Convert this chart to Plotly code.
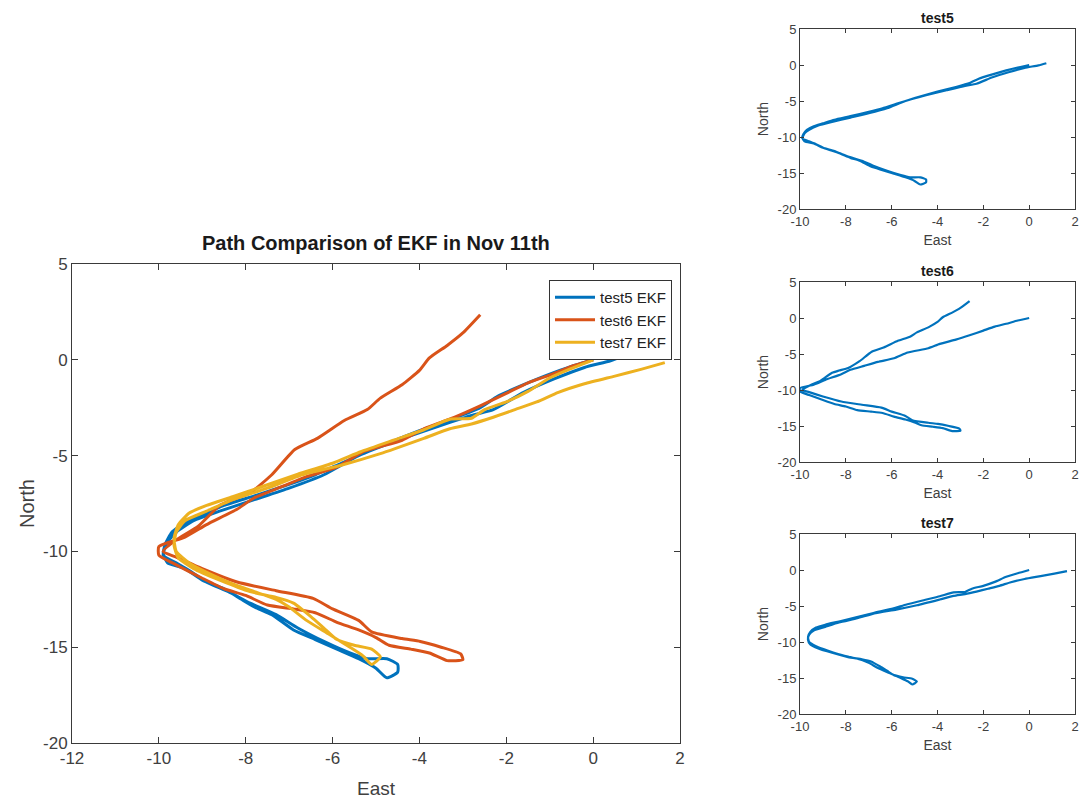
import plotly.graph_objects as go

# ---------------- data ----------------
test5_east = [0, -0.5, -1.0, -1.6, -2.2, -2.6, -3.2, -4.0, -5.0, -5.8, -6.4, -7.0, -7.8, -8.5, -9.0, -9.4,
              -9.7, -9.85, -9.9, -9.8, -9.4, -9.0, -8.5, -8.1, -7.8, -7.4, -6.9, -6.4, -5.9, -5.4, -5.0,
              -4.75, -4.5, -4.5, -4.75, -5.2, -5.6, -6.2, -6.8, -7.3, -7.9, -8.4, -8.9, -9.3, -9.6, -9.9,
              -9.8, -9.6, -9.2, -8.6, -7.8, -7.0, -6.2, -5.4, -4.5, -3.6, -2.8, -2.3, -1.6, -0.9, -0.2,
              0.4, 0.75]
test5_north = [0, -0.35, -0.75, -1.3, -1.9, -2.5, -3.05, -3.7, -4.6, -5.4, -6.0, -6.5, -7.1, -7.6, -8.1, -8.5,
               -9.0, -9.6, -10.1, -10.6, -10.9, -11.5, -11.95, -12.5, -12.9, -13.3, -14.1, -14.6, -15.1, -15.6, -16.1,
               -16.6, -16.3, -15.9, -15.6, -15.6, -15.3, -14.7, -14.0, -13.3, -12.7, -12.1, -11.6, -11.0, -10.6, -10.2,
               -9.5, -9.0, -8.4, -7.9, -7.3, -6.7, -6.0, -5.0, -4.2, -3.5, -2.9, -2.6, -1.7, -1.0, -0.4,
               -0.05, 0.25]

test6_east = [0, -0.5, -1.0, -1.5, -2.0, -2.6, -3.2, -3.9, -4.4, -5.3, -5.9, -6.6, -7.2, -7.8, -8.2, -8.9,
              -9.4, -10.0, -10.0, -9.6, -9.0, -8.5, -8.0, -7.5, -6.9, -6.4, -5.9, -5.4, -5.0, -4.7, -4.2,
              -3.77, -3.36, -3.0, -3.05, -3.5, -3.98, -4.4, -5.1, -5.4, -6.0, -6.45, -7.3, -8.2, -9.0, -9.6,
              -9.9, -9.6, -9.1, -8.6, -8.3, -7.9, -7.4, -6.87, -6.35, -5.73, -5.2, -4.9, -4.4, -4.0, -3.77,
              -3.36, -3.0, -2.6]
test6_north = [0, -0.35, -0.8, -1.2, -1.75, -2.4, -3.0, -3.6, -4.2, -4.8, -5.6, -6.1, -6.65, -7.2, -7.8, -8.6,
               -9.25, -9.75, -10.2, -10.7, -11.4, -11.95, -12.3, -12.8, -13.0, -13.2, -13.7, -14.1, -14.5, -14.9, -15.1,
               -15.3, -15.7, -15.65, -15.35, -15.0, -14.7, -14.55, -14.2, -13.6, -13.0, -12.45, -12.05, -11.6, -10.9, -10.3,
               -10.0, -9.4, -8.7, -7.6, -7.3, -6.95, -6.0, -4.68, -4.1, -3.17, -2.6, -2.0, -1.3, -0.55, 0.1,
               0.75, 1.4, 2.35]

test7_east = [0, -0.5, -1.0, -1.5, -2.0, -2.5, -2.8, -3.3, -3.9, -4.6, -5.35, -6.0, -6.8, -7.6, -8.3, -8.9,
              -9.3, -9.55, -9.65, -9.6, -9.3, -8.8, -8.3, -7.8, -7.3, -7.0, -6.6, -6.1, -5.6, -5.3, -5.1,
              -4.9, -5.1, -5.5, -5.9, -6.2, -6.5, -6.9, -7.3, -7.9, -8.6, -9.2, -9.55, -9.65, -9.6, -9.4,
              -8.9, -8.3, -7.5, -6.7, -5.8, -4.9, -3.9, -3.3, -2.8, -2.3, -1.8, -1.3, -0.8, -0.2, 0.5,
              1.1, 1.65]
test7_north = [0, -0.45, -0.95, -1.65, -2.2, -2.6, -3.05, -3.1, -3.65, -4.2, -4.8, -5.4, -5.97, -6.6, -7.15, -7.6,
               -8.0, -8.6, -9.3, -10.0, -10.6, -11.2, -11.7, -12.1, -12.5, -12.9, -13.6, -14.3, -15.0, -15.45, -15.9,
               -15.5, -15.1, -14.9, -14.6, -14.0, -13.4, -12.7, -12.4, -12.1, -11.5, -10.9, -10.35, -9.7, -9.0, -8.4,
               -7.9, -7.3, -6.7, -6.0, -5.5, -4.9, -4.1, -3.6, -3.35, -3.0, -2.6, -2.2, -1.7, -1.25, -0.85,
               -0.5, -0.15]

series_names = ["test5 EKF", "test6 EKF", "test7 EKF"]
sub_titles = ["test5", "test6", "test7"]
main_title = "Path Comparison of EKF in Nov 11th"
x_ticks_main = [-12, -10, -8, -6, -4, -2, 0, 2]
x_ticks_sub = [-10, -8, -6, -4, -2, 0, 2]
y_ticks = [5, 0, -5, -10, -15, -20]

# ---------------- styling ----------------
W, H = 1081, 799
colors = ["#0072BD", "#D95319", "#EDB120"]
FONT = "Liberation Sans, Arial, sans-serif"
AX = "#3a3a3a"
TXT = "#404040"

def px_x(p):
    return p / W

def px_y(p):
    return 1 - p / H

def labels(vals):
    return [str(v) for v in vals]   # plain hyphen minus, as in the reference

fig = go.Figure()

data = [(test5_east, test5_north), (test6_east, test6_north), (test7_east, test7_north)]

for (ex, ny), name, c in zip(data, series_names, colors):
    fig.add_trace(go.Scatter(x=ex, y=ny, mode="lines", name=name,
                             line=dict(color=c, width=3, shape="spline", smoothing=0.5),
                             xaxis="x", yaxis="y"))

for i, (ex, ny) in enumerate(data):
    fig.add_trace(go.Scatter(x=ex, y=ny, mode="lines", showlegend=False,
                             line=dict(color=colors[0], width=2.2, shape="spline", smoothing=0.5),
                             xaxis="x%d" % (i + 2), yaxis="y%d" % (i + 2)))

def axis_common(size, ticklen):
    return dict(showgrid=False, zeroline=False, showline=True, linecolor=AX, linewidth=1,
                mirror="ticks", ticks="inside", ticklen=ticklen, tickcolor=AX,
                tickfont=dict(family=FONT, size=size, color=TXT), automargin=False,
                fixedrange=True, tickmode="array")

layout = dict(
    width=W, height=H, margin=dict(l=0, r=0, t=0, b=0),
    paper_bgcolor="white", plot_bgcolor="white",
    showlegend=True,
    legend=dict(x=px_x(672), y=px_y(280), xanchor="right", yanchor="top",
                bordercolor="#333", borderwidth=1, bgcolor="white",
                font=dict(family=FONT, size=15, color="#222"),
                tracegroupgap=0, itemwidth=40),
)

layout["xaxis"] = dict(axis_common(17, 6), domain=[px_x(72), px_x(680)], range=[-12, 2],
                       tickvals=x_ticks_main, ticktext=labels(x_ticks_main), anchor="y",
                       title=dict(text="East", font=dict(family=FONT, size=19, color=TXT), standoff=14))
layout["yaxis"] = dict(axis_common(17, 6), domain=[px_y(743), px_y(264)], range=[-20, 5],
                       tickvals=y_ticks, ticktext=labels(y_ticks), anchor="x",
                       title=dict(text="North", font=dict(family=FONT, size=20, color=TXT), standoff=3))

sub_top = [29, 282, 534]
sub_bot = [209, 462, 714]
for i in range(3):
    xa = "xaxis%d" % (i + 2)
    ya = "yaxis%d" % (i + 2)
    layout[xa] = dict(axis_common(13, 4), domain=[px_x(800), px_x(1075)], range=[-10, 2],
                      tickvals=x_ticks_sub, ticktext=labels(x_ticks_sub), anchor="y%d" % (i + 2),
                      title=dict(text="East", font=dict(family=FONT, size=14, color=TXT), standoff=7))
    layout[ya] = dict(axis_common(13, 4), domain=[px_y(sub_bot[i]), px_y(sub_top[i])], range=[-20, 5],
                      tickvals=y_ticks, ticktext=labels(y_ticks), anchor="x%d" % (i + 2),
                      title=dict(text="North", font=dict(family=FONT, size=14, color=TXT), standoff=5))

annotations = [dict(text="<b>%s</b>" % main_title, x=px_x(376), y=px_y(243), xref="paper", yref="paper",
                    showarrow=False, font=dict(family=FONT, size=20, color="#1a1a1a"),
                    xanchor="center", yanchor="middle")]
for i, t in enumerate(sub_titles):
    annotations.append(dict(text="<b>%s</b>" % t, x=px_x(937), y=px_y(sub_top[i] - 11), xref="paper",
                            yref="paper", showarrow=False,
                            font=dict(family=FONT, size=14, color="#1a1a1a"),
                            xanchor="center", yanchor="middle"))
layout["annotations"] = annotations

fig.update_layout(**layout)
fig.write_html("out.html")
